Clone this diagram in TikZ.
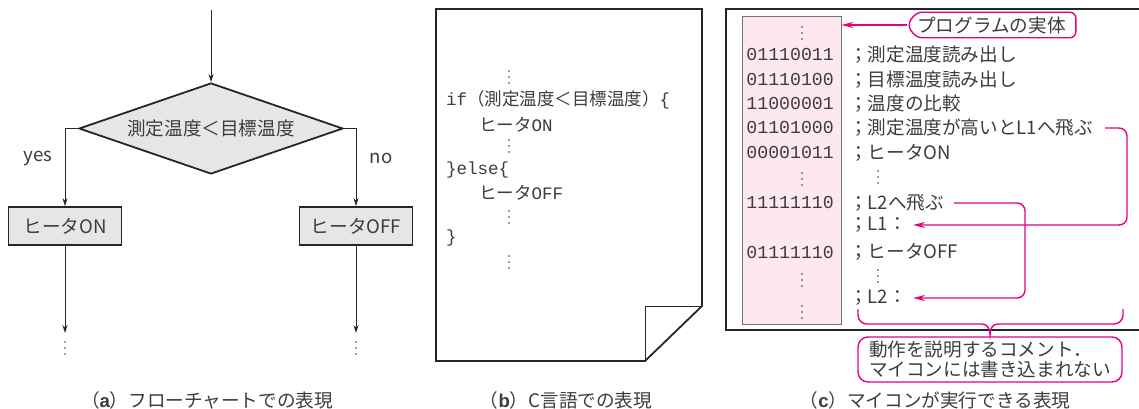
\documentclass[tikz,border=0pt]{standalone}
\usepackage{fontspec}
\setmainfont{Noto Sans CJK JP}
\setmonofont{Liberation Mono}
\newfontfamily\labelfont{Liberation Sans}
\usetikzlibrary{shapes.geometric, arrows.meta, positioning}
\definecolor{ink}{HTML}{3C3C3C}
\definecolor{edge}{HTML}{262626}
\definecolor{mag}{HTML}{E4007F}
\definecolor{pinkfill}{HTML}{FDE8EF}
\definecolor{boxgray}{HTML}{E6E6E6}
\newcommand{\jpfont}{\fontsize{18.6pt}{20pt}\selectfont}
\newcommand{\codefont}{\fontsize{17.5pt}{19pt}\selectfont}
\newcommand{\binfont}{\ttfamily\fontsize{18.2pt}{20pt}\selectfont}
\newcommand{\notefont}{\fontsize{18.6pt}{19.5pt}\selectfont}

\begin{document}
\begin{tikzpicture}[x=1pt, y=-1pt,
every node/.style={font=\jpfont, text=ink},
decision/.style={diamond, draw=edge, fill=boxgray, line width=1.8pt, minimum width=264pt, minimum height=91pt, inner sep=0pt, aspect=2.9},
process/.style={draw=edge, fill=boxgray, line width=1.8pt, minimum width=113pt, minimum height=38pt, inner sep=0pt},
flow/.style={draw=edge, line width=0.9pt, -{Stealth[length=8pt, width=5pt]}},
code/.style={anchor=west, inner sep=0pt, font=\codefont},
bin/.style={anchor=east, inner sep=0pt, font=\binfont},
cmt/.style={anchor=west, inner sep=0pt},
dots/.style={minimum width=4pt, minimum height=16pt, inner sep=0pt,
  path picture={\fill[ink] (path picture bounding box.center) circle[radius=0.9pt]
    ([yshift=6pt]path picture bounding box.center) circle[radius=0.9pt]
    ([yshift=-6pt]path picture bounding box.center) circle[radius=0.9pt];}},
jump/.style={draw=mag, line width=1.4pt, rounded corners=8pt, -{Stealth[length=12pt, width=6pt]}},
callout/.style={draw=mag, line width=1.4pt}]
\useasboundingbox (0,0) rectangle (1139,409);

\coordinate (start) at (211,10);
\node[decision] (cond) at (211,128.5) {測定温度＜目標温度};
\node[process] (heaton) at (65,226) {ヒータON};
\node[process] (heatoff) at (356,226) {ヒータOFF};
\node (yes) at (38,158) {yes};
\node (no) at (381,158) {no};
\coordinate (onend) at (65,333);
\coordinate (offend) at (356,333);
\node[dots] (ondots) at (65,348) {};
\node[dots] (offdots) at (356,348) {};
\draw[flow] (start) -- (cond.north);
\draw[flow] (cond.west) -| (heaton.north);
\draw[flow] (cond.east) -| (heatoff.north);
\draw[flow] (heaton.south) -- (onend);
\draw[flow] (heatoff.south) -- (offend);
\node (capa) at (207,400) {（{\labelfont\bfseries a}）フローチャートでの表現};

\draw[edge, line width=1.8pt, fill=white] (436,9) -- (702,9) -- (702,306) -- (645,361) -- (436,361) -- cycle;
\draw[edge, line width=0.8pt] (645,361) -- (645,306) -- (702,306);
\node[dots] (d1) at (509,77) {};
\node[code] (if) at (446,100) {{\ttfamily if}（測定温度＜目標温度）{\ttfamily\{}};
\node[code] (on) at (479,125) {ヒータ{\ttfamily ON}};
\node[dots] (d2) at (509,146) {};
\node[code] (else) at (446,170) {{\ttfamily\}else\{}};
\node[code] (off) at (479,193) {ヒータ{\ttfamily OFF}};
\node[dots] (d3) at (509,217) {};
\node[code] (close) at (446,238) {{\ttfamily\}}};
\node[dots] (d4) at (509,262) {};
\node (capb) at (566,400) {（{\labelfont\bfseries b}）C言語での表現};

\draw[edge, line width=2.2pt] (1139,9) -- (726,9) -- (726,330) -- (1139,330);
\node[draw=black!55, line width=0.8pt, fill=pinkfill, minimum width=99pt, minimum height=308pt, inner sep=0pt] (column) at (791.5,170) {};
\node[dots] (b0) at (802,33) {};
\node[bin] (b1) at (834,55) {01110011};
\node[bin] (b2) at (834,80) {01110100};
\node[bin] (b3) at (834,104) {11000001};
\node[bin] (b4) at (834,128) {01101000};
\node[bin] (b5) at (834,153) {00001011};
\node[dots] (b6) at (802,179) {};
\node[bin] (b7) at (834,203) {11111110};
\node[bin] (b8) at (834,252) {01111110};
\node[dots] (b9) at (802,280) {};
\node[dots] (b10) at (802,312) {};

\node[cmt] (c1) at (849,55) {；測定温度読み出し};
\node[cmt] (c2) at (849,80) {；目標温度読み出し};
\node[cmt] (c3) at (849,104) {；温度の比較};
\node[cmt] (c4) at (849,128) {；測定温度が高いとL1へ飛ぶ};
\node[cmt] (c5) at (849,153) {；ヒータON};
\node[dots] (c6) at (878,177) {};
\node[cmt] (c7) at (849,203) {；L2へ飛ぶ};
\node[cmt] (l1) at (849,225) {；L1：};
\node[cmt] (c8) at (849,252) {；ヒータOFF};
\node[dots] (c9) at (878,276) {};
\node[cmt] (l2) at (849,298) {；L2：};

\node[inner xsep=10pt, inner ysep=4pt] (entity) at (991.5,25) {プログラムの実体};
\draw[callout, rounded corners=6pt] (entity.west) -- ([xshift=9pt]entity.north west) -- (entity.north east) -- (entity.south east) -- ([xshift=9pt]entity.south west) -- cycle;
\draw[callout, -{Stealth[length=12pt, width=6pt]}] (entity.west) -- (entity.west -| column.east);

\coordinate (rail1) at (1127,0);
\coordinate (rail2) at (1025,0);
\draw[jump] ([xshift=12pt]c4.east) -- (c4.east -| rail1) |- ([xshift=6pt]l1.east);
\draw[jump] ([xshift=10pt]c7.east) -- (c7.east -| rail2) |- ([xshift=6pt]l2.east);

\draw[callout] (858,309) -- (858,315) .. controls (858,320) and (862,324) .. (867,324) -- (982,324) .. controls (987,324) and (990,328) .. (990,335) .. controls (990,328) and (993,324) .. (998,324) -- (1114,324) .. controls (1119,324) and (1123,320) .. (1123,315) -- (1123,309);
\node[callout, rounded corners=10pt, minimum width=264pt, minimum height=45pt, align=left, font=\notefont] (note) at (990,359.5) {動作を説明するコメント．\\マイコンには書き込まれない};
\node (capc) at (935,400) {（{\labelfont\bfseries c}）マイコンが実行できる表現};
\end{tikzpicture}
\end{document}
